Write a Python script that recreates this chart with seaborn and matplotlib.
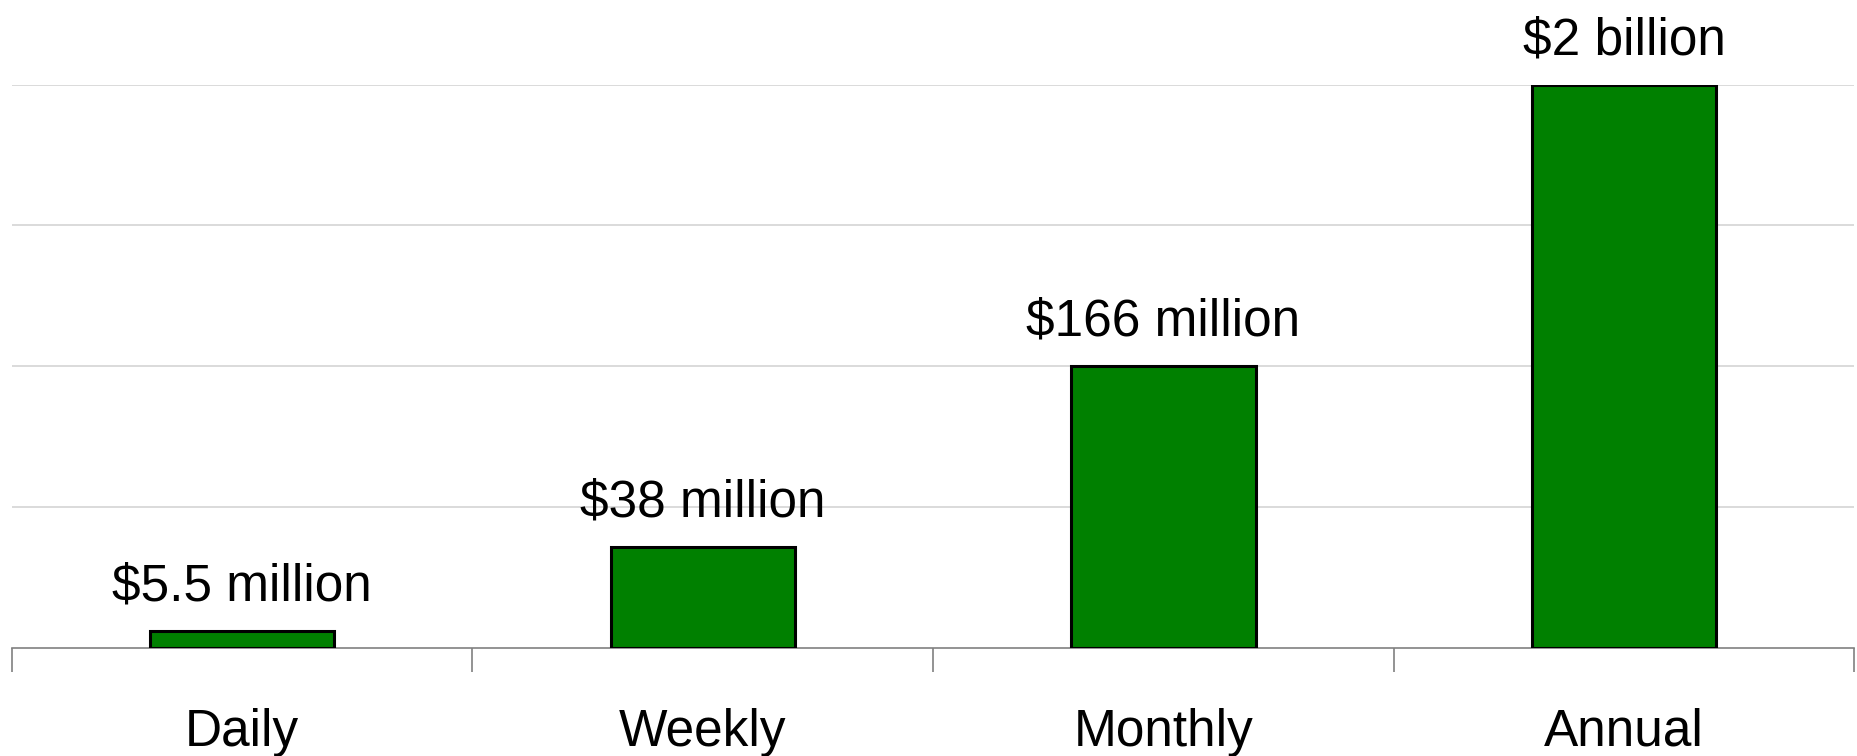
import numpy as np
import pandas as pd
import matplotlib.pyplot as plt
import seaborn as sns
import matplotlib as mpl

# bar heights (chart units, 4 gridline steps)
periods = ['Daily', 'Weekly', 'Monthly', 'Annual']
heights = [0.12, 0.72, 2.0, 4.0]
value_labels = ['$5.5 million', '$38 million', '$166 million', '$2 billion']


def bar_chart():
    sns.set_style('white')
    mpl.rcParams['font.family'] = ['Liberation Sans Narrow', 'Liberation Sans', 'DejaVu Sans']
    mpl.rcParams['text.color'] = 'black'
    mpl.rcParams['xtick.color'] = 'black'
    fig = plt.figure(figsize=(18.58, 7.56), dpi=100)
    ax = fig.add_axes([0.0064, 0.143, 0.9916, 0.745])
    df = pd.DataFrame({'period': periods, 'height': heights})
    sns.barplot(data=df, x='period', y='height', color='#008000', saturation=1,
                width=0.4, edgecolor='black', linewidth=2.2, ax=ax, zorder=3)
    ax.set_xlim(-0.5, 3.5)
    ax.set_ylim(0, 4)
    ax.set_yticks([1, 2, 3, 4])
    ax.yaxis.grid(True, color='#d4d4d4', linewidth=1.2, zorder=0)
    ax.set_axisbelow(True)
    ax.tick_params(axis='y', left=False, labelleft=False)
    # boundary ticks between categories, names at the centres
    ax.set_xticks(np.arange(-0.5, 4, 1))
    ax.set_xticklabels([])
    ax.tick_params(axis='x', which='major', bottom=True, length=17, width=1.2,
                   color='#808080', direction='out')
    ax.set_xticks(range(len(periods)), minor=True)
    ax.set_xticklabels(periods, minor=True, fontsize=37, color='black')
    ax.tick_params(axis='x', which='minor', bottom=True, length=0, pad=43)
    for s in ['left', 'right', 'top']:
        ax.spines[s].set_visible(False)
    ax.spines['bottom'].set_color('#808080')
    ax.spines['bottom'].set_linewidth(1.2)
    ax.set(xlabel='', ylabel='')
    for i, (h, lab) in enumerate(zip(heights, value_labels)):
        ax.annotate(lab, (i, h), xytext=(0, 14), textcoords='offset points',
                    ha='center', va='bottom', fontsize=37, color='black',
                    clip_on=False, annotation_clip=False)
    plt.savefig('out.png', dpi=100)


if __name__ == '__main__':
    bar_chart()
